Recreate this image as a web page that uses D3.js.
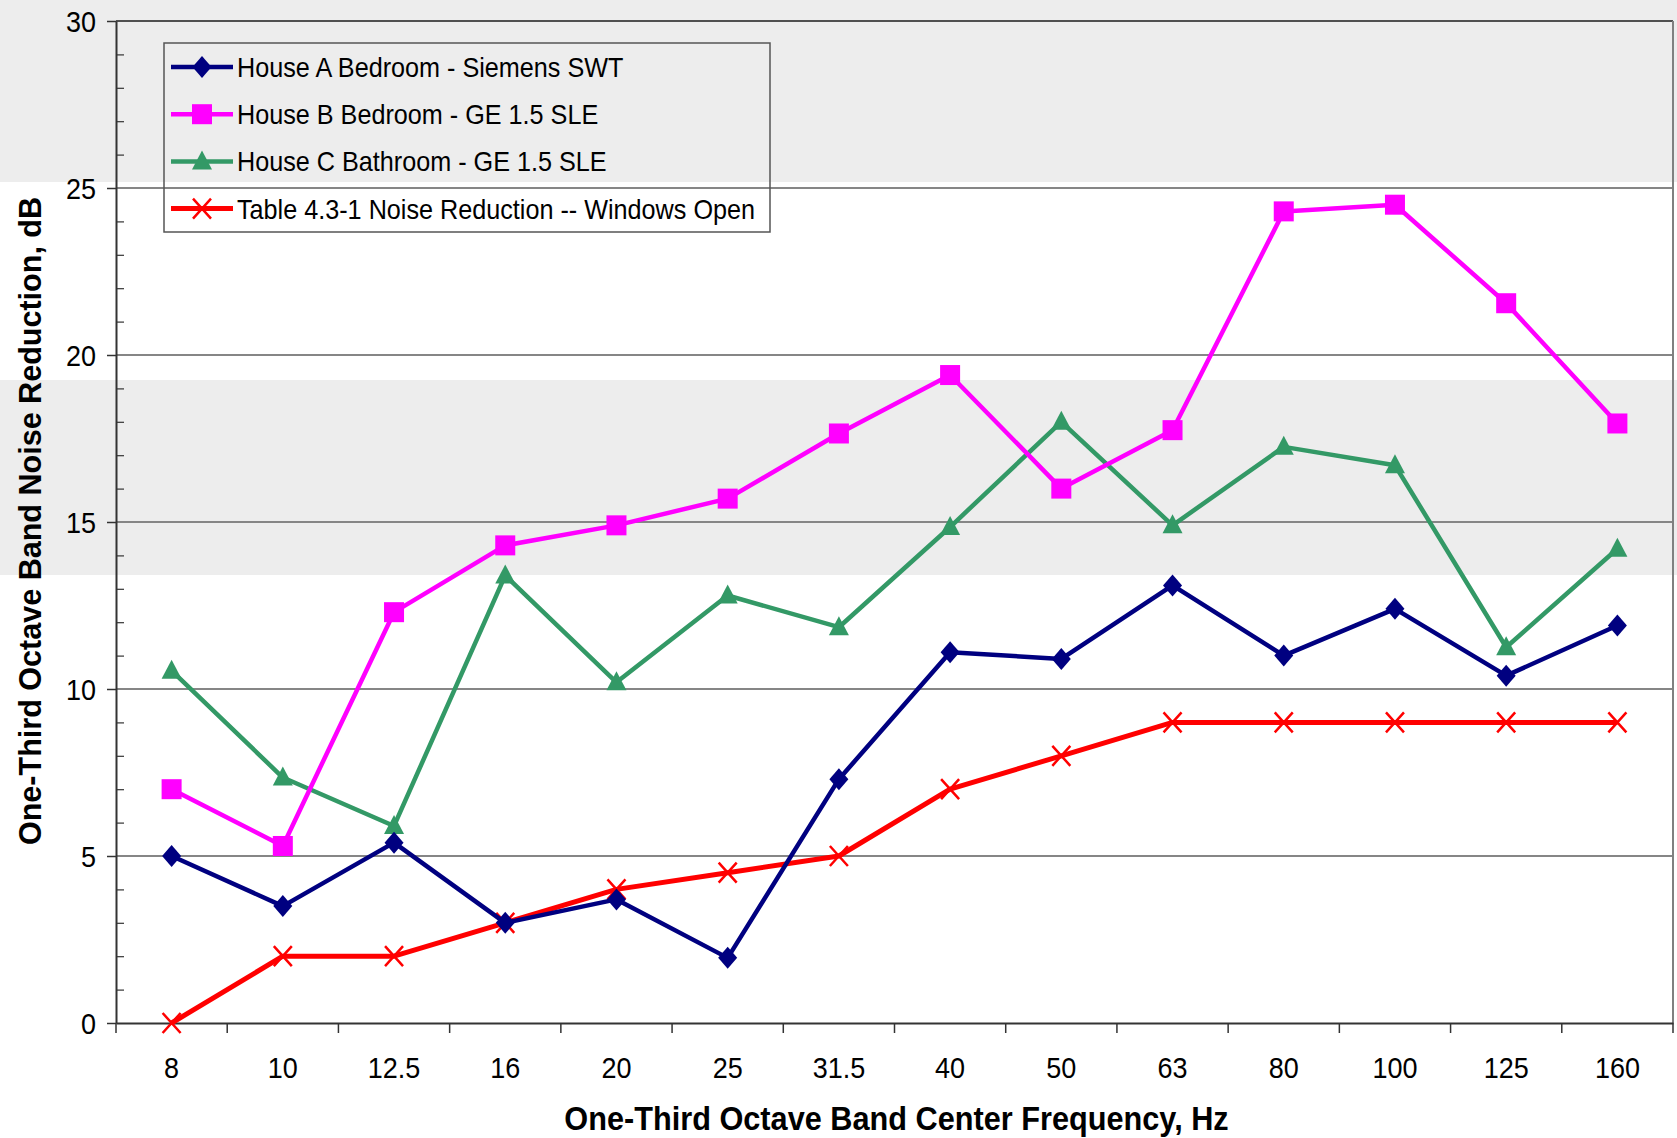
<!DOCTYPE html>
<html>
<head>
<meta charset="utf-8">
<script src="https://cdn.jsdelivr.net/npm/d3@7"></script>
<style>
  html, body { margin: 0; padding: 0; background: #fff; }
  svg { display: block; }
  text { font-family: "Liberation Sans", Arial, sans-serif; fill: #000; }
</style>
</head>
<body>
<svg id="chart" width="1677" height="1138"></svg>
<script>
// One-third octave band centre frequencies (Hz)
const categories = ["8", "10", "12.5", "16", "20", "25", "31.5", "40", "50", "63", "80", "100", "125", "160"];

// Band noise reduction, dB
const houseA = [5.0, 3.5, 5.4, 3.0, 3.7, 1.95, 7.3, 11.1, 10.9, 13.1, 11.0, 12.4, 10.4, 11.9];
const houseB = [7.0, 5.3, 12.3, 14.3, 14.9, 15.7, 17.65, 19.4, 16.0, 17.75, 24.3, 24.5, 21.55, 17.95];
const houseC = [10.55, 7.35, 5.9, 13.4, 10.2, 12.8, 11.85, 14.85, 18.0, 14.9, 17.25, 16.7, 11.25, 14.2];
const table431 = [0, 2, 2, 3, 4, 4.5, 5, 7, 8, 9, 9, 9, 9, 9];

const seriesNames = [
  "House A Bedroom - Siemens SWT",
  "House B Bedroom - GE 1.5 SLE",
  "House C Bathroom - GE 1.5 SLE",
  "Table 4.3-1 Noise Reduction -- Windows Open"
];

const yTickValues = [0, 5, 10, 15, 20, 25, 30];
const xTitle = "One-Third Octave Band Center Frequency, Hz";
const yTitle = "One-Third Octave Band Noise Reduction, dB";

// ---- layout ----
const plot = { left: 116, right: 1673, top: 21, bottom: 1023 };
const svg = d3.select("#chart");

const x = d3.scaleBand().domain(categories).range([plot.left, plot.right]).padding(0);
const y = d3.scaleLinear().domain([0, 30]).range([plot.bottom, plot.top]);
const cx = c => x(c) + x.bandwidth() / 2;

// narrow-looking type: regular face squeezed horizontally
const squeeze = 0.9;

// light grey shaded strips behind the chart
const shades = [[0, 182], [380, 575]];
svg.append("g").selectAll("rect").data(shades).join("rect")
  .attr("x", 0).attr("width", 1677)
  .attr("y", d => d[0]).attr("height", d => d[1] - d[0])
  .attr("fill", "#ededed");

// horizontal gridlines
svg.append("g").selectAll("line").data(yTickValues.filter(v => v > 0)).join("line")
  .attr("x1", plot.left).attr("x2", plot.right)
  .attr("y1", d => y(d)).attr("y2", d => y(d))
  .attr("stroke", d => d === 30 ? "#505050" : "#868686")
  .attr("stroke-width", 2);

// right border of plot area
svg.append("line")
  .attr("x1", plot.right).attr("x2", plot.right)
  .attr("y1", plot.top).attr("y2", plot.bottom)
  .attr("stroke", "#808080").attr("stroke-width", 2);

// ---- y axis ----
const yAxisG = svg.append("g").attr("transform", `translate(${plot.left},0)`)
  .call(d3.axisLeft(y).tickValues(yTickValues).tickSize(9).tickSizeOuter(0));
yAxisG.select(".domain").attr("stroke", "#333").attr("stroke-width", 2);
yAxisG.selectAll(".tick line").attr("stroke", "#333").attr("stroke-width", 1.5);
yAxisG.selectAll(".tick text")
  .attr("x", 0).attr("dy", "0.36em")
  .attr("text-anchor", "end")
  .attr("font-size", 30)
  .attr("font-family", "Liberation Sans, Arial, sans-serif")
  .attr("transform", `translate(-20,0) scale(${squeeze},1)`);

// minor ticks inside the axis
const minorG = svg.append("g").attr("transform", `translate(${plot.left},0)`)
  .call(d3.axisRight(y).tickValues(d3.range(1, 30).filter(v => v % 5 !== 0)).tickSize(8).tickFormat(""));
minorG.select(".domain").remove();
minorG.selectAll(".tick line").attr("stroke", "#333").attr("stroke-width", 1.2);

// ---- x axis ----
const xAxisG = svg.append("g").attr("transform", `translate(0,${plot.bottom})`)
  .call(d3.axisBottom(x).tickSize(0).tickSizeOuter(0));
xAxisG.select(".domain").attr("stroke", "#333").attr("stroke-width", 2);
xAxisG.selectAll(".tick text")
  .attr("y", 0).attr("dy", 0)
  .attr("font-size", 30)
  .attr("font-family", "Liberation Sans, Arial, sans-serif")
  .attr("transform", `translate(0,55) scale(${squeeze},1)`);

// tick marks on band boundaries
const boundaries = categories.map(c => x(c)).concat([x.range()[1]]);
svg.append("g").selectAll("line").data(boundaries).join("line")
  .attr("x1", d => d).attr("x2", d => d)
  .attr("y1", plot.bottom).attr("y2", plot.bottom + 10)
  .attr("stroke", "#333").attr("stroke-width", 1.5);

// ---- axis titles ----
svg.append("text")
  .attr("transform", `translate(${(plot.left + plot.right) / 2 + 2},1130) scale(0.93,1)`)
  .attr("text-anchor", "middle")
  .attr("font-size", 33).attr("font-weight", "bold")
  .text(xTitle);

svg.append("text")
  .attr("transform", `translate(41,${(plot.top + plot.bottom) / 2 - 1}) rotate(-90) scale(0.955,1)`)
  .attr("text-anchor", "middle")
  .attr("font-size", 32).attr("font-weight", "bold")
  .text(yTitle);

// ---- marker shapes ----
const markers = {
  diamond: g => g.append("path").attr("d", "M0,-11L9.5,0L0,11L-9.5,0Z"),
  square: g => g.append("rect").attr("x", -10).attr("y", -10).attr("width", 20).attr("height", 20),
  triangle: g => g.append("path").attr("d", "M0,-11L10,8L-10,8Z"),
  cross: g => g.append("path").attr("d", "M-9,-10L9,10M-9,10L9,-10").attr("fill", "none")
};

const series = [
  { name: seriesNames[0], values: houseA, color: "#000080", marker: "diamond", width: 4.5 },
  { name: seriesNames[1], values: houseB, color: "#ff00ff", marker: "square", width: 4.5 },
  { name: seriesNames[2], values: houseC, color: "#339966", marker: "triangle", width: 4.5 },
  { name: seriesNames[3], values: table431, color: "#ff0000", marker: "cross", width: 5 }
];

function styleMarker(sel, s) {
  if (s.marker === "cross") sel.attr("stroke", s.color).attr("stroke-width", 2.5).attr("fill", "none");
  else sel.attr("fill", s.color).attr("stroke", "none");
}

const line = d3.line().x(d => cx(d.c)).y(d => y(d.v));

// draw series bottom to top so the legend order matches stacking
const dataG = svg.append("g");
series.slice().reverse().forEach(s => {
  const pts = categories.map((c, i) => ({ c, v: s.values[i] }));
  dataG.append("path").datum(pts)
    .attr("d", line)
    .attr("fill", "none")
    .attr("stroke", s.color)
    .attr("stroke-width", s.width)
    .attr("stroke-linejoin", "round");
  pts.forEach(p => {
    const g = dataG.append("g").attr("transform", `translate(${cx(p.c)},${y(p.v)})`);
    styleMarker(markers[s.marker](g), s);
  });
});

// ---- legend ----
const legend = svg.append("g");
legend.append("rect")
  .attr("x", 164).attr("y", 43).attr("width", 606).attr("height", 189)
  .attr("fill", "none").attr("stroke", "#555").attr("stroke-width", 1.5);

series.forEach((s, i) => {
  const ry = 67 + i * 47.2;
  const row = legend.append("g").attr("transform", `translate(0,${ry})`);
  row.append("line").attr("x1", 171).attr("x2", 233).attr("y1", 0).attr("y2", 0)
    .attr("stroke", s.color).attr("stroke-width", s.width);
  const mg = row.append("g").attr("transform", "translate(202,0)");
  styleMarker(markers[s.marker](mg), s);
  row.append("text")
    .attr("transform", `translate(237,0) scale(${squeeze},1)`)
    .attr("dy", "0.36em")
    .attr("font-size", 28)
    .text(s.name);
});
</script>
</body>
</html>
